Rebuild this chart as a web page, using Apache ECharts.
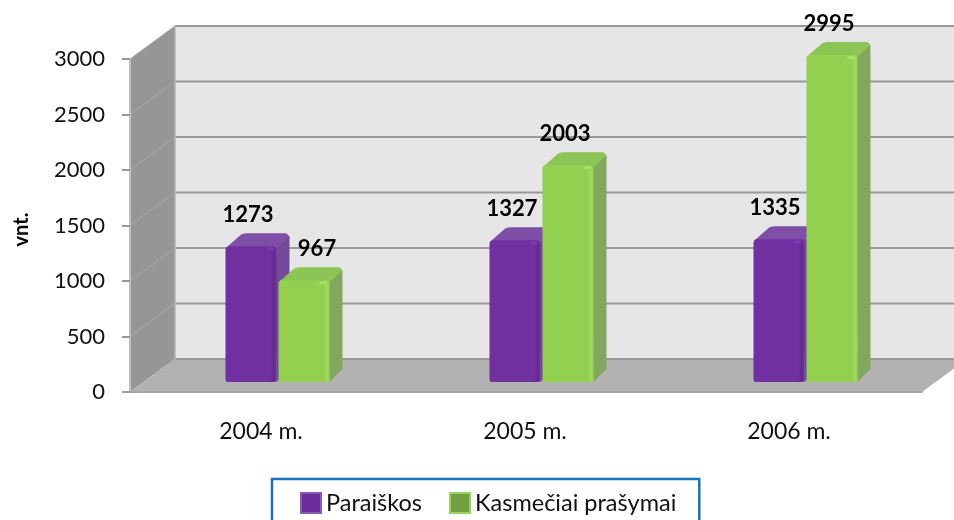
<!DOCTYPE html>
<html>
<head>
<meta charset="utf-8">
<style>
html, body { margin: 0; padding: 0; background: #fff; overflow: hidden; }
#chart { width: 954px; height: 520px; }
</style>
<script src="https://cdn.jsdelivr.net/npm/echarts@6/dist/echarts.min.js"></script>
</head>
<body>
<div id="chart"></div>
<script>
const categories = ['2004 m.', '2005 m.', '2006 m.'];
const paraiskos = [1273, 1327, 1335];
const prasymai = [967, 2003, 2995];
const yTicks = [0, 500, 1000, 1500, 2000, 2500, 3000];
const seriesNames = ['Paraiškos', 'Kasmečiai prašymai'];

const FONT = 'Lato, "Noto Sans", sans-serif';
// fake 3d: how far the back wall sits from the front plane
const DEPTH_X = 45;
const DEPTH_Y = 33;
const BAR_W = 51;
const BAR_DEPTH = 13;

const palette = [
  { front: '#7030a0', edge: '#642a90', shine: '#7c3aac', side: '#714a99', top: '#7f4fa8' },
  { front: '#92d050', edge: '#9fdc5e', shine: '#a6e264', side: '#82a860', top: '#8cc556' }
];
// bar centre relative to category centre, one per series
const barShift = [-11, 42];
// label nudge, series by category (967 sits right of its bar in the original)
const labelNudge = [[-3, -3, -4], [13, -3, -3]];

function renderWalls(params, api) {
  const cs = params.coordSys;
  const left = cs.x;
  const right = cs.x + cs.width;
  const y0 = api.coord([0, 0])[1];
  const yTop = api.coord([0, yTicks[yTicks.length - 1]])[1];
  const children = [
    { type: 'rect', shape: { x: left + DEPTH_X, y: yTop - DEPTH_Y, width: cs.width, height: y0 - yTop },
      style: { fill: '#e6e6e6' } },
    { type: 'polygon', shape: { points: [[left, yTop], [left + DEPTH_X, yTop - DEPTH_Y], [left + DEPTH_X, y0 - DEPTH_Y], [left, y0]] },
      style: { fill: '#969696' } },
    { type: 'polygon', shape: { points: [[left, y0], [left + DEPTH_X, y0 - DEPTH_Y], [right + DEPTH_X, y0 - DEPTH_Y], [right, y0]] },
      style: { fill: '#b2b2b2' } }
  ];
  yTicks.forEach(function (t) {
    const y = api.coord([0, t])[1];
    if (t > 0) {
      children.push({ type: 'line', shape: { x1: left, y1: y, x2: left + DEPTH_X, y2: y - DEPTH_Y },
        style: { stroke: '#ababab', lineWidth: 1 } });
    }
    children.push({ type: 'line', shape: { x1: left + DEPTH_X, y1: y - DEPTH_Y, x2: right + DEPTH_X, y2: y - DEPTH_Y },
      style: { stroke: '#999999', lineWidth: 2 } });
  });
  children.push({ type: 'line', shape: { x1: left + DEPTH_X, y1: yTop - DEPTH_Y, x2: left + DEPTH_X, y2: y0 - DEPTH_Y },
    style: { stroke: '#b4b4b4', lineWidth: 1.5 } });
  return { type: 'group', children: children };
}

function makeBarRenderer(idx) {
  const c = palette[idx];
  return function (params, api) {
    const cat = api.value(0);
    const val = api.value(1);
    const p = api.coord([cat, val]);
    const zero = api.coord([cat, 0]);
    const cx = p[0] + barShift[idx];
    const x0 = cx - BAR_W / 2;
    const x1 = cx + BAR_W / 2;
    const top = p[1] - 4.5;
    const base = zero[1] - 10;
    const d = BAR_DEPTH;
    return {
      type: 'group',
      children: [
        { type: 'polygon', shape: { points: [[x1 - 2, top], [x1 + d - 3, top - d], [x1 + d, top - d + 4], [x1 + d, base - d], [x1, base]] },
          style: { fill: c.side } },
        { type: 'polygon', shape: { points: [[x0, top + 2], [x0 + d + 3, top - d + 1], [x0 + d + 7, top - d], [x1 + d - 4, top - d], [x1 + d, top - d + 3], [x1, top + 2]] },
          style: { fill: c.top } },
        { type: 'rect', shape: { x: x0, y: top, width: BAR_W, height: base - top, r: [4, 4, 2, 2] },
          style: {
            fill: new echarts.graphic.LinearGradient(0, 0, 1, 0, [
              { offset: 0, color: c.front },
              { offset: 0.88, color: c.front },
              { offset: 0.95, color: c.edge },
              { offset: 1, color: c.front }
            ])
          } },
        { type: 'rect', shape: { x: x1 - 10, y: top + 1, width: 7, height: 3, r: 1 },
          style: { fill: c.shine } },
        { type: 'text', style: {
            text: String(val),
            x: cx + labelNudge[idx][cat],
            y: top - 31,
            align: 'center',
            verticalAlign: 'middle',
            font: 'bold 22px ' + FONT,
            fill: '#000'
          } }
      ]
    };
  };
}

const chart = echarts.init(document.getElementById('chart'));
chart.setOption({
  animation: false,
  backgroundColor: '#fff',
  textStyle: { fontFamily: FONT },
  grid: { left: 130, right: 32, top: 59, bottom: 128 },
  legend: {
    left: 272,
    top: 479,
    orient: 'horizontal',
    padding: [12, 23, 20, 28],
    itemGap: 27,
    itemWidth: 20,
    itemHeight: 20,
    borderColor: '#1a73c0',
    borderWidth: 2.5,
    textStyle: { fontFamily: FONT, fontSize: 23.5, color: '#111' },
    data: [
      { name: seriesNames[0], icon: 'rect', itemStyle: { color: '#6a2c9a', borderColor: '#8a5cb0', borderWidth: 2 } },
      { name: seriesNames[1], icon: 'rect', itemStyle: { color: '#6f9f3e', borderColor: '#98d45c', borderWidth: 2 } }
    ]
  },
  xAxis: {
    type: 'category',
    data: categories,
    z: 3,
    axisLine: { show: true, lineStyle: { color: '#a6a6a6', width: 2 } },
    axisTick: { show: false },
    axisLabel: { color: '#111', fontSize: 23, margin: 28, padding: [0, 2, 0, 0], fontFamily: FONT }
  },
  yAxis: {
    type: 'value',
    min: 0,
    max: 3000,
    interval: 500,
    z: 3,
    name: 'vnt.',
    nameLocation: 'middle',
    nameGap: 98,
    nameRotate: 90,
    nameTextStyle: { color: '#000', fontSize: 20, fontWeight: 'bold', fontFamily: FONT, padding: [0, 8, 0, 0] },
    axisLine: { show: true, lineStyle: { color: '#c0c0c0', width: 2 } },
    axisTick: { show: true, length: 8, lineStyle: { color: '#999999', width: 2 } },
    axisLabel: { color: '#111', fontSize: 22, margin: 25, fontFamily: FONT, formatter: function (v) { return String(v); } },
    splitLine: { show: false }
  },
  series: [
    {
      name: 'walls',
      type: 'custom',
      silent: true,
      clip: false,
      renderItem: renderWalls,
      encode: { x: 0, y: 1 },
      data: [[0, 0]]
    },
    {
      name: seriesNames[0],
      type: 'custom',
      clip: false,
      itemStyle: { color: palette[0].front },
      renderItem: makeBarRenderer(0),
      encode: { x: 0, y: 1 },
      data: paraiskos.map(function (v, i) { return [i, v]; })
    },
    {
      name: seriesNames[1],
      type: 'custom',
      clip: false,
      itemStyle: { color: palette[1].front },
      renderItem: makeBarRenderer(1),
      encode: { x: 0, y: 1 },
      data: prasymai.map(function (v, i) { return [i, v]; })
    }
  ]
});
</script>
</body>
</html>
